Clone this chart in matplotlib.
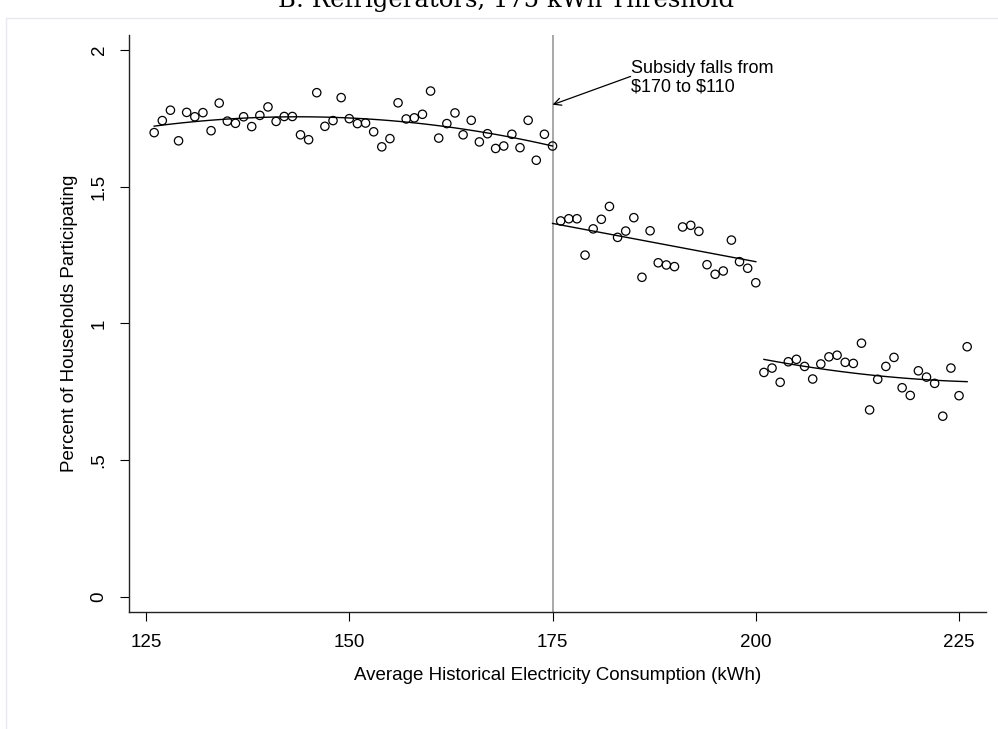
import numpy as np
import matplotlib.pyplot as plt
from matplotlib.patches import Rectangle

plt.rcParams['font.family'] = ['Liberation Sans', 'DejaVu Sans']

# binned participation rates (percent of households), one bin per kWh
kwh_low = list(range(126, 176))
pct_low = [1.698, 1.742, 1.780, 1.668, 1.772, 1.756, 1.771, 1.705, 1.806, 1.740,
           1.732, 1.756, 1.720, 1.761, 1.792, 1.739, 1.757, 1.757, 1.690, 1.672,
           1.844, 1.721, 1.742, 1.826, 1.749, 1.731, 1.733, 1.701, 1.646, 1.676,
           1.807, 1.748, 1.752, 1.765, 1.850, 1.678, 1.731, 1.770, 1.690, 1.743,
           1.664, 1.694, 1.640, 1.649, 1.692, 1.643, 1.743, 1.597, 1.692, 1.649]
kwh_mid = list(range(176, 201))
pct_mid = [1.375, 1.383, 1.383, 1.250, 1.346, 1.381, 1.428, 1.315, 1.338, 1.387,
           1.169, 1.339, 1.222, 1.214, 1.208, 1.353, 1.359, 1.337, 1.215, 1.180,
           1.192, 1.305, 1.226, 1.202, 1.149]
kwh_high = list(range(201, 227))
pct_high = [0.821, 0.837, 0.785, 0.860, 0.869, 0.843, 0.797, 0.852, 0.878, 0.884,
            0.858, 0.854, 0.928, 0.684, 0.796, 0.843, 0.876, 0.765, 0.737, 0.827,
            0.804, 0.781, 0.661, 0.837, 0.736, 0.915]

# fitted curves
fit_low_x = [126, 135, 144, 153, 162, 175]
fit_low_y = [1.720, 1.750, 1.757, 1.745, 1.718, 1.650]
fit_mid_x = [175, 200]
fit_mid_y = [1.366, 1.226]
fit_high_x = [201, 206, 213, 220, 226]
fit_high_y = [0.869, 0.843, 0.815, 0.797, 0.787]

threshold = 175
xticks = [125, 150, 175, 200, 225]
yticks = [0, 0.5, 1, 1.5, 2]
ytick_labels = ['0', '.5', '1', '1.5', '2']

fig = plt.figure(figsize=(9.98, 7.29), dpi=100)
ax = fig.add_axes([0.1293, 0.1605, 0.8587, 0.7915])

for xs, ys in [(kwh_low, pct_low), (kwh_mid, pct_mid), (kwh_high, pct_high)]:
    ax.scatter(xs, ys, s=36, facecolors='none', edgecolors='black', linewidths=0.9, zorder=3)

for fx, fy, deg in [(fit_low_x, fit_low_y, 2), (fit_mid_x, fit_mid_y, 1), (fit_high_x, fit_high_y, 2)]:
    c = np.polyfit(fx, fy, deg)
    xf = np.linspace(fx[0], fx[-1], 100)
    ax.plot(xf, np.polyval(c, xf), color='black', lw=1.0, zorder=2)

ax.axvline(threshold, color='#999999', lw=1.2, zorder=1)

ax.annotate('Subsidy falls from\n\\$170 to \\$110', xy=(175, 1.80), xytext=(184.6, 1.962),
            fontsize=13, va='top', ha='left', linespacing=1.12,
            arrowprops=dict(arrowstyle='->', color='black', lw=0.9,
                            shrinkA=0, shrinkB=0, patchA=None,
                            relpos=(0, 0.55)))

ax.set_xlim(122.91, 228.32)
ax.set_ylim(-0.055, 2.055)
ax.set_xticks(xticks)
ax.set_yticks(yticks)
ax.set_yticklabels(ytick_labels, rotation=90, va='center')
ax.tick_params(axis='both', direction='out', length=6.5, width=0.8, labelsize=13.5, pad=9, colors='black')
for s in ['top', 'right']:
    ax.spines[s].set_visible(False)
for s in ['left', 'bottom']:
    ax.spines[s].set_color('#222222')
    ax.spines[s].set_linewidth(1.0)

ax.set_xlabel('Average Historical Electricity Consumption (kWh)', fontsize=13.5, labelpad=12)
ax.set_ylabel('Percent of Households Participating', fontsize=13.5, labelpad=9)

fig.patches.append(Rectangle((0.006, -0.02), 1.1, 0.995, transform=fig.transFigure,
                             fill=False, edgecolor='#e6e9ee', lw=1.0))
fig.text(0.507, 0.990, 'B: Refrigerators, 175 kWh Threshold', ha='center', va='baseline',
         fontsize=17.5, family='DejaVu Serif')

fig.savefig('out.png', dpi=100)
